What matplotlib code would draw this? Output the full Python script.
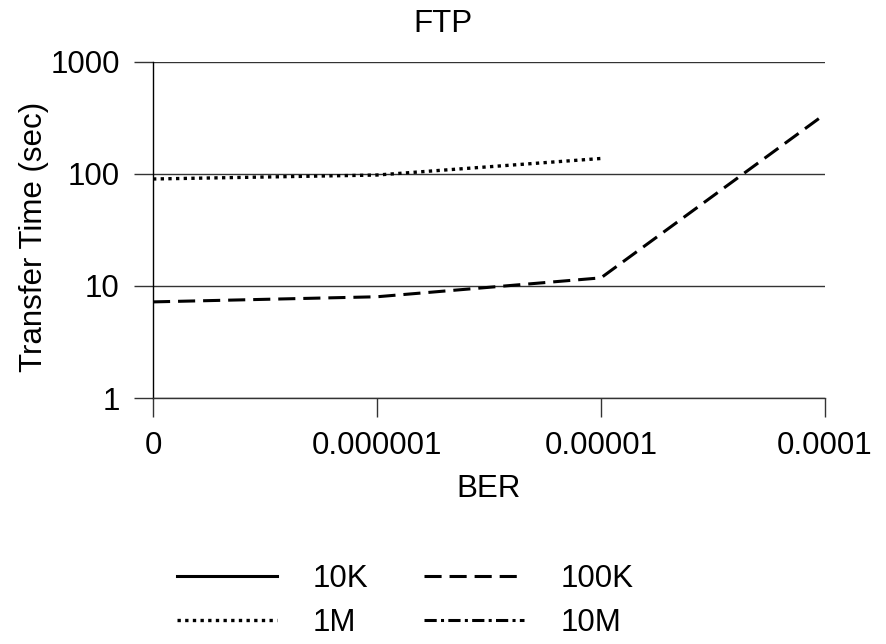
import matplotlib
matplotlib.use("Agg")
import matplotlib.pyplot as plt
import numpy as np

plt.rcParams['font.family'] = ['Liberation Sans', 'DejaVu Sans']

categories = ["0", "0.000001", "0.00001", "0.0001"]
series_names = ["10K", "100K", "1M", "10M"]
values_10k = []
values_100k = [7.2, 8.0, 11.8, 341]
values_1m = [89.9, 97.5, 137]
values_10m = []

fs = 22.5
fig = plt.figure(figsize=(8.86, 6.44), dpi=100)
ax = fig.add_axes([153/886, 1-398/644, (825-153)/886, (398-61.7)/644])

def xs(v):
    return list(range(len(v)))

h10k, = ax.plot(xs(values_10k), values_10k, color='black', lw=2.2, linestyle='-', label=series_names[0])
h100k, = ax.plot(xs(values_100k), values_100k, color='black', lw=2.2, linestyle=(0, (5.6, 2.6)), label=series_names[1])
h1m, = ax.plot(xs(values_1m), values_1m, color='black', lw=2.4, linestyle=(0, (1.0, 1.3)), label=series_names[2])
h10m, = ax.plot(xs(values_10m), values_10m, color='black', lw=2.2, linestyle=(0, (4.0, 1.4, 1.0, 1.4)), label=series_names[3])

ax.set_yscale('log')
ax.set_ylim(1, 1000)
ax.set_xlim(0, len(categories)-1)
ax.set_yticks([1, 10, 100, 1000])
ax.set_yticklabels(["1", "10", "100", "1000"])
ax.yaxis.set_minor_locator(matplotlib.ticker.NullLocator())
ax.set_xticks(range(len(categories)))
ax.set_xticklabels(categories)

for s in ['top', 'right']:
    ax.spines[s].set_visible(False)
ax.spines['left'].set_color('black')
ax.spines['left'].set_linewidth(1)
ax.spines['bottom'].set_color('#333333')
ax.spines['bottom'].set_linewidth(1)

ax.grid(axis='y', color='#333333', lw=1)
ax.set_axisbelow(True)
ax.tick_params(axis='y', length=14, width=1, color='#333333', pad=10, labelsize=fs)
ax.tick_params(axis='x', length=14, width=1, color='#333333', pad=10, labelsize=fs)

fig.text(489/886, 1-497/644, "BER", fontsize=fs, ha='center', va='baseline')
fig.text(34/886, 1-237/644, "Transfer Time (sec)", fontsize=fs, ha='center', va='center', rotation=90)
fig.text(443/886, 1-32/644, "FTP", fontsize=fs, ha='center', va='baseline')

fig.legend(handles=[h10k, h1m, h100k, h10m], loc='center', bbox_to_anchor=(405/886, 1-601/644), ncol=2, frameon=False,
           fontsize=fs, handlelength=3.2, handletextpad=1.15, columnspacing=1.8,
           labelspacing=0.45, borderpad=0, borderaxespad=0)

fig.savefig("out.png", dpi=100)
